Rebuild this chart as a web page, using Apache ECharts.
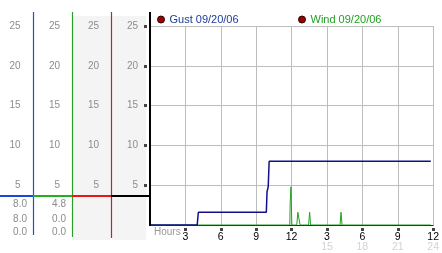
<!DOCTYPE html>
<html><head><meta charset="utf-8">
<script src="https://cdn.jsdelivr.net/npm/echarts@6/dist/echarts.min.js"></script>
<style>html,body{margin:0;padding:0;background:#fff}#c{width:442px;height:253px}</style>
</head><body><div id="c"></div>
<script>
// ---- data ----
const gustName = 'Gust 09/20/06';
const windName = 'Wind 09/20/06';
const gustHours  = [0, 4.0, 4.1, 9.86, 9.92, 10.02, 10.1, 23.8];
const gustValues = [0, 0,   1.6, 1.6,  4.2,  4.8,   8.0,  8.0];
const windHours  = [0, 11.85, 11.88, 11.95, 12.02, 12.44, 12.53, 12.64, 12.72, 13.44, 13.53, 13.61, 16.11, 16.19, 16.28, 23.8];
const windValues = [0, 0,     2.8,   4.8,   0,     0,     1.6,   1.6,   0,     0,     1.6,   0,     0,     1.6,   0,     0];
const gustStats = ['8.0', '8.0', '0.0'];   // max, current, min
const windStats = ['4.8', '0.0', '0.0'];
const hourTicks = [3, 6, 9, 12, 15, 18, 21, 24];
const hourTickLabels = ['3', '6', '9', '12', '3', '6', '9', '12'];
const hourSubLabels = ['', '', '', '', '15', '18', '21', '24'];
const valueTicks = [5, 10, 15, 20, 25];

const FONT = 'Liberation Sans';
const gray = '#8c8c8c';
const chart = echarts.init(document.getElementById('c'), null, {renderer: 'canvas'});

const labelAxis = (offset, margin) => ({
  type: 'value', min: 0, max: 25, interval: 5, position: 'left', offset: offset,
  axisLine: {show: false}, axisTick: {show: false}, splitLine: {show: false},
  axisLabel: {customValues: valueTicks, margin: margin, color: gray, fontFamily: FONT, fontSize: 10}
});

const statText = (x, y, t) => ({type: 'text', x: x, y: y, z: 20,
  style: {text: t, fill: gray, font: '10px ' + FONT, textAlign: 'right', textVerticalAlign: 'middle'}});

const vline = (x, y1, y2, color, w) => ({type: 'line', z: 15, shape: {x1: x, y1: y1, x2: x, y2: y2}, style: {stroke: color, lineWidth: w}});
const hline = (x1, x2, y, color, w) => ({type: 'line', z: 16, shape: {x1: x1, y1: y, x2: x2, y2: y}, style: {stroke: color, lineWidth: w}});

const graphics = [
  {type: 'rect', z: -10, shape: {x: 73, y: 16, width: 38, height: 224}, style: {fill: '#f4f4f4'}},
  {type: 'rect', z: -10, shape: {x: 112, y: 16, width: 34, height: 224}, style: {fill: '#f4f4f4'}},
  vline(33.5, 12, 235, '#2050d0', 1.2),
  vline(72.5, 12, 237, '#2aa02a', 1.2),
  vline(111.5, 12, 238, '#c82020', 1.2),
  vline(150, 12, 226, '#000', 2),
  hline(0, 33, 196, '#1a46e0', 2),
  hline(33, 72, 196, '#22b022', 2),
  hline(72, 111, 196, '#e81818', 2),
  hline(111, 149, 196, '#000', 2),
  {type: 'text', x: 154, y: 232, z: 20, style: {text: 'Hours', fill: '#9a9a9a', font: '10px ' + FONT, textVerticalAlign: 'middle'}}
];
const rowsY = [204.5, 219, 232.5];
gustStats.forEach((t, i) => graphics.push(statText(27, rowsY[i], t)));
windStats.forEach((t, i) => graphics.push(statText(66, rowsY[i], t)));

const legendItem = (name, left, color) => ({
  left: left, top: 14, icon: 'circle', itemWidth: 7, itemHeight: 7, selectedMode: false, padding: 0,
  data: [{name: name, itemStyle: {color: '#9a0000', borderColor: '#300', borderWidth: 1},
          textStyle: {color: color, fontFamily: FONT, fontSize: 11}}],
  textStyle: {color: color, fontFamily: FONT, fontSize: 11}
});

chart.setOption({
  animation: false,
  backgroundColor: '#fff',
  legend: [legendItem(gustName, 157, '#1a3a9c'), legendItem(windName, 298, '#22a022')],
  grid: {left: 150, top: 26, right: 4, bottom: 27, containLabel: false},
  xAxis: {
    type: 'value', min: 0, max: 24, interval: 3,
    axisLine: {show: true, lineStyle: {color: '#222', width: 1}},
    axisTick: {show: true, customValues: hourTicks, length: 6, lineStyle: {color: '#444', width: 3, type: [3, 3], dashOffset: 3}},
    splitLine: {show: true, lineStyle: {color: '#bdbdbd', width: 1}},
    axisLabel: {
      customValues: hourTicks, margin: 7.5, showMaxLabel: true, hideOverlap: false,
      formatter: v => {
        const i = hourTicks.indexOf(v);
        if (i < 0) return '';
        return hourSubLabels[i] ? `{v|${hourTickLabels[i]}}\n{g|${hourSubLabels[i]}}` : `{v|${hourTickLabels[i]}}`;
      },
      rich: {
        v: {color: '#000', fontFamily: FONT, fontSize: 10.5, lineHeight: 10},
        g: {color: '#d2d2d2', fontFamily: FONT, fontSize: 10.5, lineHeight: 10}
      }
    }
  },
  yAxis: [
    {
      type: 'value', min: 0, max: 25, interval: 5, position: 'left',
      axisLine: {show: false},
      axisTick: {show: true, customValues: valueTicks, length: 6, lineStyle: {color: '#444', width: 3, type: [3, 3], dashOffset: 3}},
      splitLine: {show: true, lineStyle: {color: '#bdbdbd', width: 1}},
      axisLabel: {customValues: valueTicks, margin: 12, color: gray, fontFamily: FONT, fontSize: 10}
    },
    labelAxis(39, 12),
    labelAxis(78, 12),
    labelAxis(117, 12.5)
  ],
  graphic: graphics,
  series: [
    {name: windName, type: 'line', yAxisIndex: 0, symbol: 'none', z: 3,
     lineStyle: {color: '#22a022', width: 1}, itemStyle: {color: '#22a022'},
     data: windHours.map((h, i) => [h, windValues[i]])},
    {name: gustName, type: 'line', yAxisIndex: 0, symbol: 'none', z: 4,
     lineStyle: {color: '#10108a', width: 1.5}, itemStyle: {color: '#10108a'},
     data: gustHours.map((h, i) => [h, gustValues[i]])}
  ]
});
</script></body></html>
